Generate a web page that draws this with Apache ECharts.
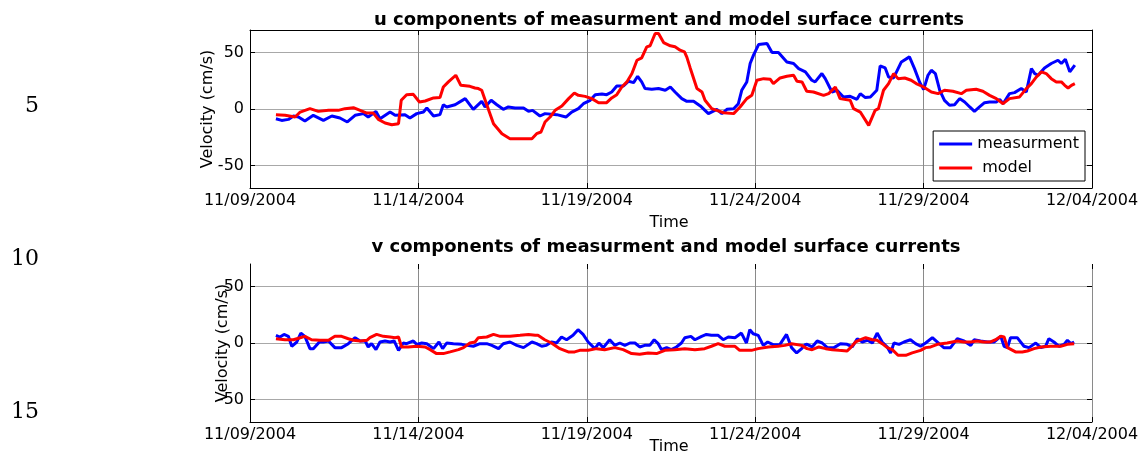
<!DOCTYPE html>
<html>
<head>
<meta charset="utf-8">
<script src="https://cdn.jsdelivr.net/npm/echarts@6.0.0/dist/echarts.min.js"></script>
<style>
html, body { margin: 0; padding: 0; background: #fff; }
#chart { width: 1140px; height: 455px; }
</style>
</head>
<body>
<div id="chart"></div>
<script>
// tick labels (days counted from 11/09/2004)
const dateLabels = ["11/09/2004", "11/14/2004", "11/19/2004", "11/24/2004", "11/29/2004", "12/04/2004"];
const yTicks = [-50, 0, 50];
const lineNumbers = ["5", "10", "15"];

// u component, [day, cm/s]
const uMeasured = [
    [0.77,-8.6],[0.94,-10.1],[1.14,-9.2],[1.29,-6.2],[1.44,-7.1],[1.63,-10.7],[1.88,-5.6],[2.18,-10.1],
    [2.43,-6.2],[2.67,-8.0],[2.89,-11.5],[3.12,-5.6],[3.37,-4.1],[3.51,-7.1],[3.74,-2.1],[3.86,-8.6],
    [4.16,-2.7],[4.31,-5.6],[4.60,-5.0],[4.75,-8.0],[4.95,-4.1],[5.15,-2.7],[5.25,0.9],[5.45,-6.2],
    [5.64,-5.0],[5.74,3.8],[5.84,1.8],[6.09,3.8],[6.39,9.2],[6.63,-0.3],[6.88,6.8],[6.98,1.8],
    [7.16,7.7],[7.33,3.8],[7.52,-0.3],[7.67,1.8],[7.87,0.9],[8.12,0.9],[8.27,-2.1],[8.39,-1.2],
    [8.61,-6.2],[8.76,-4.1],[9.11,-5.0],[9.38,-7.1],[9.55,-2.7],[9.75,0.3],[9.90,4.7],[10.10,7.7],
    [10.25,12.7],[10.45,13.3],[10.59,12.7],[10.74,15.1],[10.89,20.4],[11.09,20.4],[11.24,24.6],[11.39,23.4],
    [11.51,29.0],[11.63,24.0],[11.73,18.1],[11.93,17.5],[12.13,18.1],[12.33,16.6],[12.48,19.5],[12.62,15.1],
    [12.82,9.2],[12.97,6.8],[13.17,6.8],[13.37,2.7],[13.61,-4.1],[13.86,-0.3],[14.01,-4.1],[14.16,-0.3],
    [14.36,0.3],[14.50,4.7],[14.60,16.6],[14.75,24.0],[14.85,40.3],[14.95,47.7],[15.10,57.1],[15.35,58.0],
    [15.50,50.0],[15.69,50.0],[15.94,41.7],[16.14,40.3],[16.29,35.8],[16.49,32.9],[16.68,25.5],[16.78,24.0],
    [16.98,31.4],[17.08,26.9],[17.28,15.1],[17.43,16.6],[17.62,10.7],[17.82,11.2],[18.02,8.6],[18.12,13.6],
    [18.27,10.1],[18.42,10.7],[18.61,16.6],[18.71,38.2],[18.86,36.4],[18.96,28.4],[19.11,27.5],[19.34,41.7],
    [19.58,46.2],[19.73,35.8],[19.88,24.0],[20.00,17.2],[20.13,29.9],[20.23,34.3],[20.35,31.4],[20.48,16.6],
    [20.62,7.7],[20.77,3.3],[20.92,3.8],[21.07,9.2],[21.22,6.2],[21.37,1.8],[21.51,-2.1],[21.66,1.8],
    [21.81,5.6],[21.96,6.2],[22.16,6.2],[22.26,8.6],[22.36,4.7],[22.55,13.6],[22.70,14.5],[22.90,18.1],
    [23.05,15.1],[23.20,35.8],[23.30,31.4],[23.40,29.9],[23.59,36.4],[23.79,40.3],[23.99,43.2],[24.09,40.3],
    [24.21,44.1],[24.34,32.9],[24.49,38.8]
];
const uModel = [
    [0.77,-5.0],[1.04,-5.6],[1.34,-7.1],[1.49,-2.7],[1.78,0.3],[2.03,-2.1],[2.33,-1.2],[2.62,-1.2],
    [2.82,0.3],[3.07,1.2],[3.27,-1.2],[3.47,-3.6],[3.66,-3.6],[3.81,-9.2],[4.01,-12.4],[4.21,-13.9],
    [4.41,-13.0],[4.49,7.7],[4.65,12.7],[4.85,13.0],[5.03,6.2],[5.20,7.1],[5.45,9.8],[5.64,10.1],
    [5.74,19.5],[5.89,24.0],[6.11,29.9],[6.26,21.0],[6.53,20.1],[6.68,18.6],[6.78,18.1],[6.88,16.6],
    [7.03,3.8],[7.23,-13.0],[7.48,-21.9],[7.72,-26.3],[8.37,-26.3],[8.51,-21.9],[8.64,-20.4],[8.76,-11.5],
    [8.91,-7.1],[9.06,-1.2],[9.26,2.7],[9.46,9.2],[9.63,14.2],[9.75,12.1],[9.95,11.2],[10.15,9.2],
    [10.35,5.6],[10.59,5.6],[10.74,9.8],[10.89,12.7],[11.04,19.5],[11.19,24.0],[11.34,31.4],[11.49,43.2],
    [11.63,45.3],[11.78,55.1],[11.88,56.0],[12.03,66.9],[12.13,66.9],[12.28,58.9],[12.48,56.0],[12.62,55.1],
    [12.77,52.1],[12.90,50.6],[12.97,46.0],[13.07,36.4],[13.12,35.8],[13.27,18.1],[13.42,15.1],[13.51,7.7],
    [13.71,0.3],[13.86,-1.2],[14.06,-3.3],[14.36,-4.1],[14.55,1.8],[14.75,9.2],[14.90,12.1],[15.05,25.5],
    [15.25,26.9],[15.45,26.3],[15.54,22.5],[15.74,27.5],[15.94,29.0],[16.14,29.9],[16.24,24.6],[16.39,24.0],
    [16.53,15.7],[16.73,15.1],[17.03,12.1],[17.18,13.6],[17.38,19.5],[17.52,9.2],[17.82,7.7],[17.92,0.3],
    [18.12,-2.7],[18.37,-14.5],[18.56,-1.2],[18.66,0.3],[18.81,16.6],[18.96,22.5],[19.11,31.4],[19.24,26.9],
    [19.44,27.5],[19.63,25.5],[19.78,22.5],[20.00,19.5],[20.23,15.1],[20.43,13.6],[20.62,16.6],[20.87,15.7],
    [21.12,13.6],[21.27,16.6],[21.56,17.5],[21.76,15.7],[21.96,12.1],[22.16,9.2],[22.36,4.7],[22.55,9.2],
    [22.85,10.7],[23.05,18.1],[23.20,22.5],[23.35,28.4],[23.50,32.9],[23.64,31.4],[23.79,26.9],[23.94,24.0],
    [24.09,24.0],[24.19,21.0],[24.29,18.6],[24.39,21.0],[24.49,22.5]
];

// v component, [day, cm/s]
const vMeasured = [
    [0.77,6.8],[0.89,5.3],[1.01,7.6],[1.14,5.9],[1.24,-2.9],[1.39,0.9],[1.51,8.8],[1.63,5.9],
    [1.78,-5.0],[1.88,-5.0],[2.06,0.9],[2.18,0.9],[2.33,1.8],[2.52,-4.1],[2.72,-4.1],[2.92,-0.6],
    [3.12,4.7],[3.27,1.8],[3.42,1.8],[3.51,-3.5],[3.61,-0.6],[3.74,-5.9],[3.86,0.9],[4.01,1.8],
    [4.16,0.9],[4.28,1.8],[4.41,-6.5],[4.55,0.0],[4.65,-0.6],[4.85,1.8],[4.95,-1.2],[5.10,0.0],
    [5.25,-0.6],[5.45,-5.0],[5.61,0.9],[5.72,-5.0],[5.84,0.0],[6.04,-0.6],[6.29,-1.2],[6.44,-2.1],
    [6.63,-2.9],[6.83,-0.6],[7.03,-0.6],[7.18,-2.1],[7.38,-5.0],[7.52,-0.6],[7.72,0.9],[7.92,-2.1],
    [8.12,-4.1],[8.37,0.9],[8.51,-0.6],[8.66,-2.9],[8.80,-2.1],[8.95,0.9],[9.10,0.0],[9.25,5.3],
    [9.40,2.9],[9.59,6.8],[9.74,11.8],[9.89,7.6],[10.04,0.9],[10.24,-5.0],[10.36,0.0],[10.49,-4.1],
    [10.68,2.9],[10.83,-2.1],[10.98,0.0],[11.13,-2.1],[11.28,0.0],[11.43,0.0],[11.57,-3.5],[11.72,-2.1],
    [11.87,-2.1],[12.00,2.9],[12.12,-0.6],[12.22,-5.9],[12.37,-4.1],[12.51,-5.9],[12.66,-3.5],[12.81,0.0],
    [12.91,4.7],[13.09,5.9],[13.21,2.9],[13.41,5.9],[13.55,7.6],[13.70,6.8],[13.90,6.8],[14.05,2.9],
    [14.20,5.3],[14.40,4.7],[14.59,8.8],[14.74,0.0],[14.84,11.8],[14.94,8.2],[15.09,6.8],[15.24,-2.1],
    [15.37,0.9],[15.53,-1.5],[15.73,-1.5],[15.93,7.6],[16.08,-4.1],[16.23,-8.8],[16.38,-5.0],[16.48,-1.5],
    [16.54,-1.2],[16.69,-3.5],[16.84,1.8],[16.99,0.0],[17.14,-4.1],[17.34,-4.1],[17.53,-0.6],[17.73,-1.2],
    [17.88,-3.5],[18.03,3.8],[18.18,0.9],[18.33,2.4],[18.48,0.0],[18.62,8.8],[18.77,0.9],[18.92,-3.5],
    [19.02,-8.8],[19.12,0.0],[19.27,-1.2],[19.42,0.9],[19.61,2.9],[19.76,-0.6],[19.91,-2.9],[20.06,0.0],
    [20.26,4.7],[20.46,-0.6],[20.60,-4.1],[20.80,-4.1],[21.00,3.8],[21.20,1.8],[21.40,-2.1],[21.50,2.9],
    [21.69,1.8],[21.89,0.9],[22.09,0.9],[22.29,5.9],[22.39,-2.9],[22.49,-4.1],[22.58,4.7],[22.78,4.7],
    [22.98,-2.9],[23.13,-4.1],[23.33,0.0],[23.48,-4.1],[23.62,-2.9],[23.72,3.8],[23.87,0.9],[24.02,-2.9],
    [24.17,-1.2],[24.27,2.4],[24.37,-0.6],[24.47,0.9]
];
const vModel = [
    [0.77,3.8],[1.04,2.9],[1.29,2.9],[1.49,4.7],[1.63,5.9],[1.83,2.9],[2.08,2.4],[2.33,2.4],
    [2.52,5.9],[2.72,5.9],[2.92,3.8],[3.07,2.4],[3.27,1.8],[3.47,2.4],[3.56,4.7],[3.76,7.6],
    [3.96,5.9],[4.16,5.3],[4.31,4.7],[4.41,5.3],[4.50,-3.5],[4.70,-3.5],[4.95,-2.9],[5.20,-3.5],
    [5.35,-5.9],[5.54,-9.4],[5.74,-9.4],[5.94,-7.9],[6.19,-5.9],[6.34,-4.1],[6.53,0.0],[6.68,0.9],
    [6.78,4.7],[7.03,5.3],[7.23,7.6],[7.43,5.9],[7.72,5.9],[8.02,6.8],[8.27,7.6],[8.47,6.8],
    [8.55,6.8],[8.75,2.9],[8.95,0.0],[9.20,-5.0],[9.45,-7.9],[9.64,-7.9],[9.79,-6.5],[10.04,-6.5],
    [10.29,-5.0],[10.53,-5.9],[10.83,-4.1],[11.08,-5.9],[11.33,-9.4],[11.57,-10.0],[11.82,-8.8],[12.07,-9.4],
    [12.32,-6.5],[12.61,-5.9],[12.91,-5.0],[13.21,-5.9],[13.50,-5.0],[13.70,-2.9],[13.90,-0.6],[14.10,-2.9],
    [14.40,-2.9],[14.54,-6.5],[14.89,-6.5],[15.09,-5.0],[15.39,-3.5],[15.68,-2.9],[15.88,-2.1],[16.08,-0.6],
    [16.38,-2.1],[16.54,-5.0],[16.69,-5.9],[16.89,-3.5],[17.09,-5.0],[17.29,-5.9],[17.49,-6.5],[17.73,-7.1],
    [17.83,-4.1],[17.98,0.9],[18.13,2.9],[18.28,4.7],[18.48,2.9],[18.62,2.4],[18.77,-0.6],[18.92,-4.1],
    [19.07,-5.9],[19.24,-10.9],[19.47,-10.9],[19.66,-8.8],[19.91,-6.5],[20.06,-4.1],[20.21,-3.5],[20.41,-1.2],
    [20.70,0.0],[21.00,1.8],[21.20,0.9],[21.40,0.9],[21.59,1.8],[21.79,0.9],[21.99,0.9],[22.14,2.9],
    [22.29,5.9],[22.39,5.3],[22.49,-4.1],[22.73,-7.9],[22.93,-7.9],[23.08,-7.1],[23.28,-5.0],[23.48,-3.5],
    [23.77,-2.9],[24.07,-2.9],[24.27,-1.2],[24.47,-0.6]
];

const FONT = "DejaVu Sans";
// legend icon: a 3px bar in the middle of a 33x16 box
const LINE_ICON = "path://M0,0L0,0M0,6.5L33,6.5L33,9.5L0,9.5ZM33,16L33,16";
const chart = echarts.init(document.getElementById("chart"));

// x axis of one panel; bottom one carries the date labels
function makeXAxis(gridIndex, pos, showLine) {
    const bottom = pos === "bottom";
    return {
        type: "value",
        gridIndex: gridIndex,
        position: pos,
        min: 0,
        max: 25,
        interval: 5,
        axisLine: { show: showLine, onZero: false, lineStyle: { color: "#000", width: 1 } },
        axisTick: { show: true, inside: true, length: 5, lineStyle: { color: "#000" } },
        axisLabel: {
            show: bottom,
            margin: 5,
            color: "#000",
            fontFamily: FONT,
            fontSize: 16,
            showMinLabel: true,
            showMaxLabel: true,
            formatter: function (v) {
                return dateLabels[Math.round(v / 5)];
            },
        },
        splitLine: { show: bottom, lineStyle: { color: "#8a8a8a", width: 1 } },
    };
}

function makeYAxis(gridIndex, pos, showLine, nameGap) {
    const left = pos === "left";
    return {
        type: "value",
        gridIndex: gridIndex,
        position: pos,
        min: -70,
        max: 70,
        name: left ? "Velocity (cm/s)" : "",
        nameLocation: "middle",
        nameGap: nameGap,
        nameMoveOverlap: false,
        nameTextStyle: { color: "#000", fontFamily: FONT, fontSize: 16 },
        axisLine: { show: showLine, onZero: false, lineStyle: { color: "#000", width: 1 } },
        axisTick: { show: true, inside: true, length: 5, customValues: yTicks, lineStyle: { color: "#000" } },
        axisLabel: { show: left, customValues: yTicks, margin: 6, color: "#000", fontFamily: FONT, fontSize: 16 },
        splitLine: { show: left, lineStyle: { color: "#a8a8a8", width: 1 } },
    };
}

function makeLine(name, color, data, axisIdx) {
    return {
        name: name,
        type: "line",
        xAxisIndex: axisIdx,
        yAxisIndex: axisIdx,
        data: data,
        symbol: "none",
        showSymbol: false,
        animation: false,
        lineStyle: { color: color, width: 3 },
        itemStyle: { color: color },
    };
}

function label(text, x, y, font, align) {
    return {
        type: "text",
        x: x,
        y: y,
        style: {
            text: text,
            font: font,
            fill: "#000",
            align: align || "center",
            verticalAlign: "middle",
            textAlign: align || "center",
            textVerticalAlign: "middle",
        },
    };
}

let option = {
    animation: false,
    backgroundColor: "#fff",
    grid: [
        { left: 250, top: 30, width: 842, height: 158, containLabel: false, outerBoundsMode: "none" },
        { left: 250, top: 264, width: 842, height: 158, containLabel: false, outerBoundsMode: "none" },
    ],
    xAxis: [
        makeXAxis(0, "bottom", true),
        makeXAxis(0, "top", true),
        makeXAxis(1, "bottom", true),
        makeXAxis(1, "top", false),
    ],
    yAxis: [
        makeYAxis(0, "left", true, 34),
        makeYAxis(0, "right", true, 0),
        makeYAxis(1, "left", true, 19),
        makeYAxis(1, "right", false, 0),
    ],
    legend: {
        data: [
            { name: "measurment", icon: LINE_ICON },
            { name: "model", icon: LINE_ICON },
        ],
        orient: "vertical",
        right: 55,
        top: 131,
        padding: [5, 6, 5, 6],
        itemGap: 8,
        itemWidth: 33,
        itemHeight: 16,
        borderColor: "#000",
        borderWidth: 1,
        borderRadius: 0,
        backgroundColor: "#fff",
        textStyle: { color: "#000", fontFamily: FONT, fontSize: 16 },
        formatter: function (name) {
            return name === "model" ? " model" : name;
        },
    },
    graphic: [
        label("u components of measurment and model surface currents", 669, 20, "bold 18px " + FONT),
        label("v components of measurment and model surface currents", 666, 247, "bold 18px " + FONT),
        label("Time", 669, 223, "16px " + FONT),
        label("Time", 669, 447, "16px " + FONT),
        label(lineNumbers[0], 39, 106, "22px DejaVu Serif", "right"),
        label(lineNumbers[1], 39, 259, "22px DejaVu Serif", "right"),
        label(lineNumbers[2], 39, 412, "22px DejaVu Serif", "right"),
    ],
    series: [
        makeLine("measurment", "#0000ff", uMeasured, 0),
        makeLine("model", "#ff0000", uModel, 0),
        makeLine("measurment", "#0000ff", vMeasured, 2),
        makeLine("model", "#ff0000", vModel, 2),
    ],
};

chart.setOption(option);
</script>
</body>
</html>
